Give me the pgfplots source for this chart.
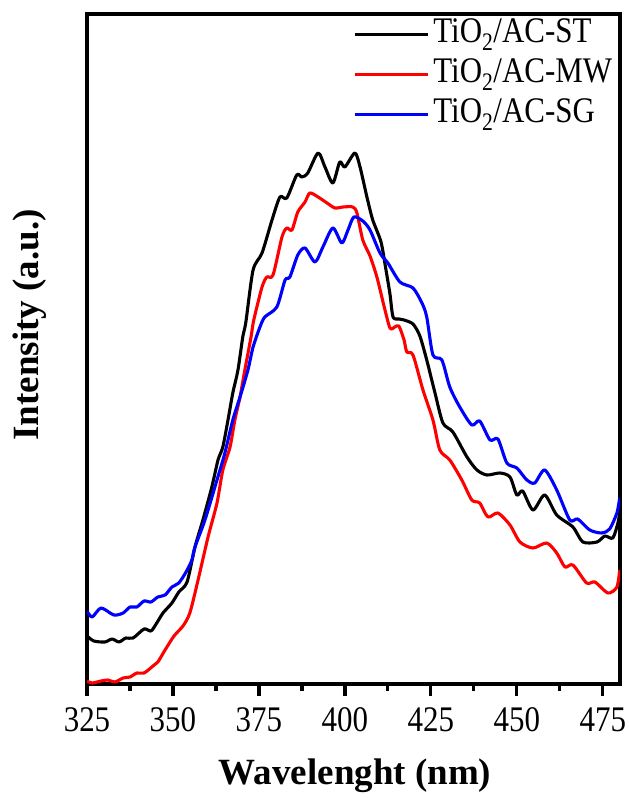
\documentclass[border=0pt]{standalone}
\usepackage{pgfplots}
\pgfplotsset{compat=1.18}
\usepackage{fontspec}
\setmainfont{Liberation Serif}
\newfontfamily\condfont[FakeStretch=0.86]{Liberation Serif}
\begin{document}
\begin{tikzpicture}
\begin{axis}[
  at={(0,0)}, anchor=south west,
  scale only axis, width=533pt, height=670pt,
  xmin=325, xmax=480, ymin=0, ymax=670,
  xtick={325,350,375,400,425,450,475},
  minor x tick num=1,
  xtick pos=bottom, tick align=outside,
  major tick length=12pt, minor tick length=7pt,
  ytick=\empty,
  axis line style={line width=3.2pt},
  every tick/.style={line width=3.2pt, black},
  /pgf/number format/assume math mode=true,
  /pgf/number format/1000 sep={},
  xticklabel style={font=\condfont\fontsize{36}{40}\selectfont, anchor=base, yshift=-35pt},
  xlabel={Wavelenght (nm)},
  xlabel style={font=\fontsize{37}{44}\selectfont\bfseries, at={(axis description cs:0.503,0)}, anchor=base, yshift=-100pt},
  ylabel={Intensity (a.u.)},
  ylabel style={font=\fontsize{37}{44}\selectfont\bfseries, at={(axis description cs:-0.0901,0.536)}, anchor=base, rotate=0},
  legend style={draw=none, fill=none, at={(axis description cs:0.499,1)}, anchor=north west,
    inner sep=0pt, row sep=0pt,
    font=\condfont\fontsize{36}{40}\selectfont,
    nodes={inner sep=4pt, text height=24pt, text depth=8pt}},
  legend cell align=left,
  legend image code/.code={\draw[#1, line width=3.2pt] (0pt,0pt) -- (73pt,0pt);},
  every axis plot/.append style={line width=3.1pt, line join=round, smooth, tension=0.45},
]
\addplot[black] coordinates {
(325.0,48) (327.0,43) (330.2,42) (332.3,45) (334.3,42) (336.3,46) (338.4,46) (341.6,55) (343.6,53) (345.1,60) (347.1,71) (349.7,81) (351.7,92) (354.1,102) (356.4,137) (358.7,164) (361.3,197) (363.1,224) (364.5,237) (366.0,264) (367.4,291) (368.9,314) (370.3,347) (371.2,362) (373.3,414) (375.9,431) (378.8,464) (381.1,487) (383.1,486) (386.0,509) (387.5,507) (389.2,511) (392.2,531) (394.2,517) (396.5,501) (398.5,522) (400.0,517) (402.9,531) (404.4,517) (406.4,487) (408.1,464) (410.5,442) (411.9,415) (413.1,390) (414.0,367) (415.7,365) (417.2,364) (419.8,360) (421.8,348) (423.8,324) (426.2,291) (428.5,261) (431.4,252) (435.5,227) (438.4,214) (441.3,209) (445.1,211) (448.0,207) (450.0,189) (451.7,193) (454.7,174) (458.1,189) (461.6,169) (466.3,157) (469.2,142) (473.3,142) (475.6,148) (477.9,146) (479.4,161) (479.9,171)
};
\addlegendentry{TiO\textsubscript{2}/AC-ST}
\addplot[red] coordinates {
(325.0,3) (326.5,1) (329.1,3) (331.1,4) (333.1,2) (335.5,6) (337.5,7) (339.5,11) (341.6,11) (344.2,18) (345.6,22) (347.7,34) (350.3,48) (352.9,58) (354.9,71) (357.3,104) (360.2,147) (362.8,181) (364.5,214) (366.6,237) (368.0,264) (369.5,287) (370.9,314) (372.7,347) (373.5,364) (375.9,397) (377.3,407) (379.1,409) (381.7,447) (383.1,456) (384.6,454) (386.3,472) (388.4,482) (389.8,491) (392.2,487) (394.8,481) (397.1,476) (399.4,477) (402.3,477) (403.5,471) (405.2,444) (407.3,428) (409.3,407) (411.3,379) (413.1,356) (414.5,357) (415.7,358) (417.2,344) (418.0,332) (419.8,329) (422.7,294) (425.6,264) (427.6,234) (430.5,224) (434.0,204) (436.9,184) (439.2,181) (441.6,167) (444.5,171) (448.0,159) (450.9,142) (454.7,136) (458.7,141) (461.6,131) (464.0,117) (466.3,119) (470.3,101) (472.7,102) (476.5,91) (479.1,97) (479.9,114)
};
\addlegendentry{TiO\textsubscript{2}/AC-MW}
\addplot[blue] coordinates {
(325.0,73) (326.5,67) (329.1,76) (332.8,69) (335.5,71) (337.5,77) (339.5,77) (341.6,83) (343.6,82) (345.6,87) (347.7,89) (349.7,97) (351.7,101) (353.8,112) (355.5,124) (356.4,137) (359.3,164) (362.8,204) (365.1,231) (367.4,264) (369.5,287) (371.8,314) (373.3,337) (375.3,357) (376.7,367) (380.2,377) (382.6,404) (384.0,407) (386.3,429) (388.4,436) (391.3,422) (393.6,437) (396.5,456) (399.1,441) (400.9,454) (402.6,467) (405.2,463) (407.3,454) (410.2,431) (412.5,421) (416.0,402) (419.8,396) (422.4,381) (423.8,367) (425.6,329) (428.2,324) (430.5,297) (433.4,277) (436.9,259) (439.2,263) (442.2,244) (444.5,245) (447.1,221) (450.0,216) (452.9,204) (455.2,201) (458.1,214) (461.6,194) (465.4,164) (467.7,165) (471.2,154) (474.7,151) (477.0,155) (479.1,171) (479.9,186)
};
\addlegendentry{TiO\textsubscript{2}/AC-SG}
\end{axis}
\pgfresetboundingbox
\path[use as bounding box] (-87pt,-114pt) rectangle (542pt,684pt);
\end{tikzpicture}
\end{document}
